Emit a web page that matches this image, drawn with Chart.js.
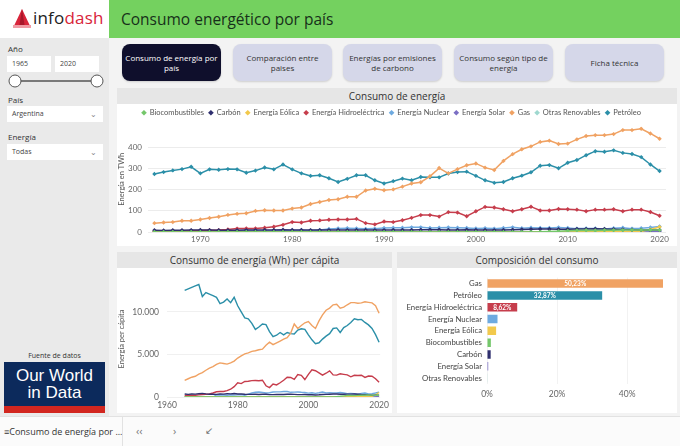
<!DOCTYPE html>
<html lang="es">
<head>
<meta charset="utf-8">
<title>Consumo energético por país</title>
<script src="https://cdn.jsdelivr.net/npm/chart.js@4.4.0/dist/chart.umd.min.js"></script>
<style>
  * { box-sizing: border-box; margin: 0; padding: 0; }
  body { width: 680px; height: 446px; overflow: hidden; position: relative; background: #f3f3f3;
         font-family: "Segoe UI", "Open Sans", sans-serif; color: #333; }
  .abs { position: absolute; }
  #logo { left: 0; top: 0; width: 109px; height: 38px; background: #fff; }
  #logo .txt { position: absolute; left: 33px; top: 6px; font-size: 17px; color: #222; letter-spacing: 0.2px; }
  #logo .txt span { color: #d8243a; }
  #cabecera { left: 109px; top: 0; width: 571px; height: 38px; background: #74d15f; }
  #cabecera h1 { position: absolute; left: 12px; top: 8px; font-size: 15.5px; font-weight: normal; color: #17301a; }
  #lateral { left: 0; top: 38px; width: 109px; height: 378px; background: #eaeaea; }
  .etiqueta { position: absolute; left: 8px; font-size: 8px; color: #333; }
  .caja { position: absolute; background: #fff; font-size: 7px; color: #444; padding: 3px 5px; height: 16px; }
  .chev { position: absolute; right: 6px; top: 2px; font-size: 8px; color: #888; }
  .boton { position: absolute; top: 44px; width: 99px; height: 37px; border-radius: 8px; background: #d5d7e9;
           font-size: 8px; line-height: 10px; text-align: center; display: flex; align-items: center; justify-content: center;
           color: #333; box-shadow: 0 1px 2px rgba(0,0,0,0.15); }
  .boton.activo { background: #0f0f2c; color: #fff; }
  .panel { position: absolute; background: #fff; }
  .titulo { position: absolute; left: 0; top: 0; width: 100%; height: 16px; background: #e6e6e6; text-align: center;
            font-size: 10px; line-height: 16px; color: #333; }
  canvas { position: absolute; }
  #pie { left: 0; top: 416px; width: 680px; height: 30px; background: #fbfbfb; border-top: 1px solid #e2e2e2; }
</style>
</head>
<body>

<div id="logo" class="abs">
  <svg class="abs" style="left:13px;top:9px" width="18" height="19" viewBox="0 0 18 19">
    <polygon points="9,0 18,19 0,19" fill="#d8243a"/>
    <polygon points="9,0 12,19 6,19" fill="#a8172a"/>
    <rect x="0" y="16" width="18" height="3" fill="#f09aa4"/>
  </svg>
  <div class="txt">info<span>dash</span></div>
</div>
<div id="cabecera" class="abs"><h1>Consumo energético por país</h1></div>

<div id="lateral" class="abs">
  <div class="etiqueta" style="top:5px">Año</div>
  <div class="caja" style="left:7px;top:18px;width:44px;">1965</div>
  <div class="caja" style="left:55px;top:18px;width:44px;">2020</div>
  <svg class="abs" style="left:8px;top:36px" width="96" height="14">
    <line x1="7" y1="7" x2="89" y2="7" stroke="#555" stroke-width="1.5"/>
    <circle cx="7" cy="7" r="6" fill="#fff" stroke="#555" stroke-width="1"/>
    <circle cx="89" cy="7" r="6" fill="#fff" stroke="#555" stroke-width="1"/>
  </svg>
  <div class="etiqueta" style="top:56px">País</div>
  <div class="caja" style="left:7px;top:68px;width:96px;">Argentina<span class="chev">&#8964;</span></div>
  <div class="etiqueta" style="top:93px">Energía</div>
  <div class="caja" style="left:7px;top:106px;width:96px;">Todas<span class="chev">&#8964;</span></div>

  <div class="etiqueta" style="top:313px;left:0;width:109px;text-align:center;font-size:7px;">Fuente de datos</div>
  <div class="abs" style="left:4px;top:324px;width:101px;height:51px;background:#0c2a5c;color:#fff;text-align:center;font-family:'Liberation Sans',sans-serif;font-size:17px;line-height:17px;padding-top:5px;">
    Our World<br>in Data
    <div class="abs" style="left:0;bottom:0;width:101px;height:7px;background:#d2261f;"></div>
  </div>
</div>

<div class="boton activo" style="left:122px">Consumo de energía por<br>país</div>
<div class="boton" style="left:233px">Comparación entre<br>paises</div>
<div class="boton" style="left:343px">Energías por emisiones<br>de carbono</div>
<div class="boton" style="left:454px">Consumo según tipo de<br>energía</div>
<div class="boton" style="left:565px">Ficha técnica</div>

<div class="panel" style="left:117px;top:88px;width:560px;height:158px;">
  <div class="titulo">Consumo de energía</div>
  <canvas id="graficoConsumo" width="560" height="142" style="left:0;top:16px"></canvas>
</div>
<div class="panel" style="left:117px;top:252px;width:275px;height:161px;">
  <div class="titulo">Consumo de energía (Wh) per cápita</div>
  <canvas id="graficoPerCapita" width="275" height="145" style="left:0;top:16px"></canvas>
</div>
<div class="panel" style="left:397px;top:252px;width:280px;height:161px;">
  <div class="titulo">Composición del consumo</div>
  <canvas id="graficoComposicion" width="280" height="145" style="left:0;top:16px"></canvas>
</div>

<div id="pie" class="abs">
  <div class="abs" style="left:4px;top:8px;font-size:9px;color:#333;">&#8801;Consumo de energía por ...</div>
  <div class="abs" style="left:122px;top:0;width:1px;height:30px;background:#e2e2e2;"></div>
  <div class="abs" style="left:136px;top:6px;font-size:11px;color:#777;">&#8249;&#8249;</div>
  <div class="abs" style="left:173px;top:6px;font-size:11px;color:#777;">&#8250;</div>
  <div class="abs" style="left:205px;top:6px;font-size:10px;color:#777;">&#8601;</div>
</div>

<script>
// Datos (Argentina, 1965-2020)

const anios = [1965, 1966, 1967, 1968, 1969, 1970, 1971, 1972, 1973, 1974,
  1975, 1976, 1977, 1978, 1979, 1980, 1981, 1982, 1983, 1984,
  1985, 1986, 1987, 1988, 1989, 1990, 1991, 1992, 1993, 1994,
  1995, 1996, 1997, 1998, 1999, 2000, 2001, 2002, 2003, 2004,
  2005, 2006, 2007, 2008, 2009, 2010, 2011, 2012, 2013, 2014,
  2015, 2016, 2017, 2018, 2019, 2020];

const fuentes = ["Biocombustibles", "Carbón", "Energía Eólica", "Energía Hidroeléctrica", "Energía Nuclear",
  "Energía Solar", "Gas", "Otras Renovables", "Petróleo"];

// Consumo en TWh
const biocombustiblesTWh = [0, 0, 0, 0, 0, 0, 0, 0, 0, 0, 0, 0, 0, 0, 0, 0, 0, 0, 0, 0,
  0, 0, 0, 0, 0, 0, 0, 0, 0, 0, 0, 0, 0, 0, 0, 0, 0, 0, 0, 0,
  0, 0.5, 0.7, 2, 3.5, 5.5, 7.5, 8, 7, 8, 8.5, 9, 10, 10, 9.5, 9];
const carbonTWh = [8, 7, 8, 8, 9, 10, 9, 8, 8, 8, 9, 9, 10, 10, 11, 10, 10, 9, 9, 9,
  10, 9, 10, 10, 9, 9, 10, 10, 10, 11, 11, 11, 10, 10, 11, 10, 10, 9, 10, 11,
  12, 13, 14, 14, 13, 13, 14, 14, 15, 14, 13, 12, 11, 10, 9, 9];
const eolicaTWh = [0, 0, 0, 0, 0, 0, 0, 0, 0, 0, 0, 0, 0, 0, 0, 0, 0, 0, 0, 0,
  0, 0, 0, 0, 0, 0, 0, 0, 0, 0, 0, 0, 0, 0, 0, 0, 0, 0, 0, 0,
  0, 0, 0, 0, 0.2, 0.2, 0.9, 0.9, 1.2, 1.5, 1.6, 1.4, 1.7, 3.7, 12, 24];
const hidroTWh = [4, 4, 5, 5, 6, 7, 8, 9, 12, 16, 17, 17, 20, 25, 34, 47, 45, 53, 55, 58,
  59, 59, 62, 42, 36, 50, 47, 56, 67, 80, 80, 73, 94, 92, 75, 98, 119, 116, 108, 98,
  108, 120, 102, 102, 109, 108, 106, 98, 106, 106, 108, 98, 106, 106, 95, 77];
const nuclearTWh = [0, 0, 0, 0, 0, 0, 0, 0, 0, 6, 7, 6, 5, 7, 6, 7, 8, 6, 10, 14,
  17, 18, 17, 15, 16, 19, 20, 20, 22, 22, 19, 20, 21, 20, 19, 17, 18, 16, 19, 22,
  18, 20, 19, 19, 21, 19, 16, 17, 17, 14, 18, 20, 16, 18, 21, 26];
const solarTWh = [0, 0, 0, 0, 0, 0, 0, 0, 0, 0, 0, 0, 0, 0, 0, 0, 0, 0, 0, 0,
  0, 0, 0, 0, 0, 0, 0, 0, 0, 0, 0, 0, 0, 0, 0, 0, 0, 0, 0, 0,
  0, 0, 0, 0, 0, 0, 0, 0.02, 0.05, 0.05, 0.05, 0.07, 0.1, 0.2, 1.1, 3];
const gasTWh = [42, 45, 47, 53, 53, 59, 66, 72, 81, 86, 89, 100, 103, 102, 102, 111, 116, 133, 142, 152,
  155, 167, 167, 197, 205, 198, 202, 215, 230, 236, 264, 303, 278, 298, 316, 325, 305, 294, 337, 369,
  392, 406, 427, 433, 417, 419, 439, 455, 459, 459, 464, 483, 483, 489, 467, 442];
const otrasTWh = [0.4, 0.4, 0.4, 0.4, 0.5, 0.5, 0.5, 0.5, 0.5, 0.5, 0.5, 0.5, 0.6, 0.6, 0.6, 0.6, 0.6, 0.6, 0.6, 0.7,
  0.7, 0.7, 0.7, 0.7, 0.7, 0.8, 0.8, 0.8, 0.8, 0.8, 0.8, 0.9, 0.9, 0.9, 0.9, 1, 1, 1, 1, 1,
  1, 1, 1, 1.1, 1.1, 1.1, 1.2, 1.2, 1.2, 1.2, 1.2, 1.1, 1.1, 1.1, 1.1, 1.1];
const petroleoTWh = [275, 284, 292, 298, 309, 278, 297, 295, 298, 297, 281, 291, 306, 297, 320, 297, 278, 266, 269, 255,
  237, 252, 269, 269, 245, 230, 241, 253, 245, 261, 259, 259, 277, 284, 286, 266, 245, 233, 237, 255,
  267, 283, 314, 317, 302, 328, 341, 364, 383, 380, 387, 375, 370, 355, 320, 289];

// Consumo per cápita
const biocombustiblesPC = [0, 0, 0, 0, 0, 0, 0, 0, 0, 0, 0, 0, 0, 0, 0, 0, 0, 0, 0, 0,
  0, 0, 0, 0, 0, 0, 0, 0, 0, 0, 0, 0, 0, 0, 0, 0, 0, 0, 0, 0,
  0, 13, 18, 50, 87, 135, 182, 193, 167, 189, 198, 207, 228, 225, 212, 198];
const carbonPC = [360, 310, 350, 340, 380, 420, 370, 330, 320, 310, 350, 340, 380, 370, 410, 360, 360, 320, 310, 310,
  330, 290, 320, 320, 280, 280, 300, 300, 300, 320, 320, 310, 280, 280, 300, 270, 270, 240, 260, 290,
  310, 330, 350, 350, 320, 320, 340, 340, 360, 330, 300, 280, 250, 220, 200, 200];
const eolicaPC = [0, 0, 0, 0, 0, 0, 0, 0, 0, 0, 0, 0, 0, 0, 0, 0, 0, 0, 0, 0,
  0, 0, 0, 0, 0, 0, 0, 0, 0, 0, 0, 0, 0, 0, 0, 0, 0, 0, 0, 0,
  0, 0, 0, 0, 5, 5, 22, 22, 28, 35, 37, 32, 39, 83, 267, 530];
const hidroPC = [190, 190, 210, 210, 250, 290, 330, 360, 470, 610, 650, 640, 740, 910, 1220, 1670, 1570, 1820, 1850, 1920,
  1930, 1900, 1970, 1320, 1110, 1530, 1420, 1670, 1960, 2310, 2290, 2060, 2630, 2540, 2050, 2660, 3200, 3080, 2840, 2560,
  2790, 3070, 2590, 2570, 2720, 2660, 2590, 2370, 2550, 2530, 2550, 2300, 2460, 2440, 2140, 1720];
const nuclearPC = [0, 0, 0, 0, 0, 0, 0, 0, 0, 240, 270, 230, 190, 260, 220, 250, 280, 210, 340, 470,
  560, 580, 540, 470, 500, 580, 600, 600, 650, 640, 550, 570, 590, 550, 520, 460, 490, 430, 500, 580,
  470, 510, 480, 480, 520, 470, 390, 410, 400, 330, 420, 460, 360, 400, 470, 580];
const solarPC = [0, 0, 0, 0, 0, 0, 0, 0, 0, 0, 0, 0, 0, 0, 0, 0, 0, 0, 0, 0,
  0, 0, 0, 0, 0, 0, 0, 0, 0, 0, 0, 0, 0, 0, 0, 0, 0, 0, 0, 0,
  0, 0, 0, 0, 0, 0, 0, 0.5, 1, 1, 1, 2, 2, 4, 25, 66];
const gasPC = [1960, 2140, 2320, 2430, 2680, 2860, 3140, 3390, 3570, 3820, 4000, 3930, 3860, 4000, 4210, 4570, 4820, 5070, 5180, 5360,
  5430, 5540, 5610, 6070, 6430, 6140, 6360, 6570, 6790, 6960, 7500, 8570, 8040, 8390, 8710, 8860, 8390, 8040, 8930, 9640,
  10180, 10430, 10820, 10890, 10430, 10540, 10820, 11070, 11070, 11000, 11040, 11180, 11110, 11040, 10710, 9820];
const otrasPC = [18, 18, 18, 18, 21, 21, 21, 20, 20, 20, 19, 19, 23, 22, 22, 21, 21, 21, 20, 23,
  23, 23, 22, 22, 22, 24, 24, 24, 24, 24, 23, 25, 25, 25, 25, 27, 27, 27, 26, 26,
  26, 26, 25, 28, 27, 27, 29, 29, 28, 28, 28, 25, 25, 25, 24, 24];
const petroleoPC = [12500, 12680, 12860, 13040, 13200, 11790, 12250, 12070, 11900, 11700, 10960, 11140, 11500, 11070, 11700, 10710, 10000, 9290, 9180, 8640,
  7930, 8210, 8570, 8500, 7680, 7070, 7250, 7570, 7290, 7570, 7430, 7390, 7860, 8000, 7930, 7290, 6710, 6250, 6360, 6790,
  7140, 7430, 8040, 8110, 7570, 8140, 8390, 8750, 9180, 9070, 9110, 8750, 8460, 8040, 7320, 6430];

// Composición del consumo (%)
const composicionFuentes = ["Gas", "Petróleo", "Energía Hidroeléctrica", "Energía Nuclear", "Energía Eólica",
  "Biocombustibles", "Carbón", "Energía Solar", "Otras Renovables"];
const composicionValores = [50.23, 32.87, 8.62, 3.0, 2.6, 1.1, 1.05, 0.35, 0.1];

// Marcas de los ejes
const ticksAnioConsumo = [1970, 1980, 1990, 2000, 2010, 2020];
const ticksTWh = [0, 100, 200, 300, 400];
const ticksAnioPerCapita = [1960, 1980, 2000, 2020];
const ticksPerCapita = [0, 5000, 10000];
const ticksPorcentaje = [0, 20, 40];

// Estilos
const colores = {
  "Biocombustibles": "#74c76a",
  "Carbón": "#2f2f6e",
  "Energía Eólica": "#f2c94c",
  "Energía Hidroeléctrica": "#c63d4c",
  "Energía Nuclear": "#6eaae0",
  "Energía Solar": "#7b6fc4",
  "Gas": "#f0a263",
  "Otras Renovables": "#9fd8cf",
  "Petróleo": "#2b8fa8",
};
const fuente = "'Segoe UI', Lato, sans-serif";
const gris = "#666";

Chart.defaults.font.family = fuente;
Chart.defaults.color = gris;

const seriesTWh = [biocombustiblesTWh, carbonTWh, eolicaTWh, hidroTWh, nuclearTWh, solarTWh, gasTWh, otrasTWh, petroleoTWh];
const seriesPC = [biocombustiblesPC, carbonPC, eolicaPC, hidroPC, nuclearPC, solarPC, gasPC, otrasPC, petroleoPC];

let fijarTicks = (valores) => (scale) => {
  scale.ticks = valores.map((v) => ({ value: v }));
};

// Gráfico de líneas: consumo de energía en TWh

new Chart(document.getElementById("graficoConsumo"), {
  type: "line",
  data: {
    labels: anios,
    datasets: fuentes.map((f, i) => ({
      label: f,
      data: seriesTWh[i],
      borderColor: colores[f],
      backgroundColor: colores[f],
      borderWidth: 1.5,
      pointStyle: "rectRot",
      pointRadius: 2.2,
      pointBorderWidth: 0,
      tension: 0,
    })),
  },
  options: {
    responsive: false,
    animation: false,
    layout: { padding: { right: 11 } },
    plugins: {
      tooltip: { enabled: false },
      legend: {
        labels: {
          usePointStyle: true,
          pointStyle: "rectRot",
          boxWidth: 4,
          boxHeight: 4,
          padding: 5,
          font: { size: 7.5 },
          color: "#555",
        },
      },
    },
    scales: {
      x: {
        type: "linear",
        min: 1964.3,
        max: 2020.7,
        grid: { display: false, drawTicks: false },
        border: { display: false },
        ticks: { font: { size: 8 }, padding: 3, callback: (v) => String(v) },
        afterBuildTicks: fijarTicks(ticksAnioConsumo),
        afterFit: (s) => { s.height = 14; },
      },
      y: {
        min: 0,
        max: 500,
        grid: { color: "#ececec", drawTicks: false },
        border: { display: false },
        ticks: { font: { size: 8 }, padding: 6 },
        afterBuildTicks: fijarTicks(ticksTWh),
        afterFit: (s) => { s.width = 31; },
        title: { display: true, text: "Energía en TWh", font: { size: 7.5 }, color: "#555", padding: 0 },
      },
    },
  },
});

// Gráfico de líneas: consumo per cápita

new Chart(document.getElementById("graficoPerCapita"), {
  type: "line",
  data: {
    labels: anios,
    datasets: fuentes.map((f, i) => ({
      label: f,
      data: seriesPC[i],
      borderColor: colores[f],
      borderWidth: 1.4,
      pointRadius: 0,
      tension: 0,
    })),
  },
  options: {
    responsive: false,
    animation: false,
    layout: { padding: { top: 1, right: 10 } },
    plugins: { legend: { display: false }, tooltip: { enabled: false } },
    scales: {
      x: {
        type: "linear",
        min: 1960,
        max: 2020.3,
        grid: { display: false, drawTicks: false },
        border: { display: false },
        ticks: { font: { size: 8.5 }, padding: 3, callback: (v) => String(v) },
        afterBuildTicks: fijarTicks(ticksAnioPerCapita),
        afterFit: (s) => { s.height = 16; },
      },
      y: {
        min: 0,
        max: 13600,
        grid: { color: "#f0f0f0", drawTicks: false },
        border: { display: false },
        ticks: { font: { size: 8.5 }, padding: 8, callback: (v) => v.toLocaleString("de-DE") },
        afterBuildTicks: fijarTicks(ticksPerCapita),
        afterFit: (s) => { s.width = 50; },
        title: { display: true, text: "Energía per cápita", font: { size: 7.5 }, color: "#555", padding: 0 },
      },
    },
  },
});

// Etiquetas de porcentaje dentro de las barras

const etiquetasBarras = {
  id: "etiquetasBarras",
  afterDatasetsDraw(chart) {
    const ctx = chart.ctx;
    const meta = chart.getDatasetMeta(0);
    ctx.save();
    ctx.font = "bold 6.5px " + fuente;
    ctx.fillStyle = "#fff";
    ctx.textAlign = "center";
    ctx.textBaseline = "middle";
    meta.data.forEach((bar, i) => {
      const v = chart.data.datasets[0].data[i];
      if (v > 5) {
        ctx.fillText(v.toFixed(2).replace(".", ",") + "%", (bar.x + bar.base) / 2, bar.y + 0.5);
      }
    });
    ctx.restore();
  },
};

// Gráfico de barras: composición del consumo

new Chart(document.getElementById("graficoComposicion"), {
  type: "bar",
  data: {
    labels: composicionFuentes,
    datasets: [
      {
        data: composicionValores,
        backgroundColor: composicionFuentes.map((f) => colores[f]),
        categoryPercentage: 1,
        barPercentage: 0.72,
      },
    ],
  },
  options: {
    indexAxis: "y",
    responsive: false,
    animation: false,
    layout: { padding: { top: 9, right: 14, bottom: 16 } },
    plugins: { legend: { display: false }, tooltip: { enabled: false } },
    scales: {
      x: {
        min: 0,
        max: 50.23,
        grid: { color: "#f2f2f2", drawTicks: false },
        border: { display: false },
        ticks: { font: { size: 8.5 }, padding: 5, callback: (v) => v + "%" },
        afterBuildTicks: fijarTicks(ticksPorcentaje),
        afterFit: (s) => { s.height = 13; },
      },
      y: {
        grid: { display: false, drawTicks: false },
        border: { display: false },
        ticks: { font: { size: 7.8 }, color: "#444", padding: 5, autoSkip: false },
        afterFit: (s) => { s.width = 90; },
      },
    },
  },
  plugins: [etiquetasBarras],
});
</script>
</body>
</html>
